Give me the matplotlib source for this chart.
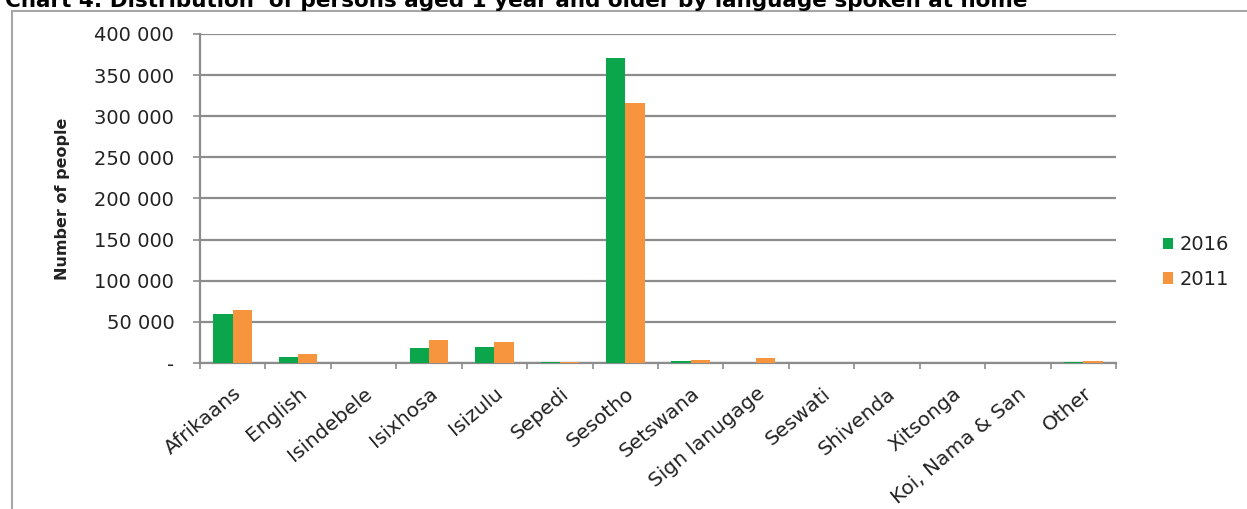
import numpy as np
import matplotlib.pyplot as plt
from matplotlib.patches import Rectangle
from matplotlib.ticker import FuncFormatter, FixedLocator

plt.rcParams['font.family'] = ['DejaVu Sans']

# Home language counts, persons aged 1 year and older
languages = ['Afrikaans', 'English', 'Isindebele', 'Isixhosa', 'Isizulu', 'Sepedi',
             'Sesotho', 'Setswana', 'Sign lanugage', 'Seswati', 'Shivenda',
             'Xitsonga', 'Koi, Nama & San', 'Other']
count_2016 = [60000, 7300, 300, 18000, 20000, 1500, 370500, 2500, 500, 200, 200,
              200, 200, 1500]
count_2011 = [64500, 11000, 300, 27500, 25000, 1500, 316000, 3500, 6000, 200, 200,
              200, 200, 2500]

green = '#0BA64B'
orange = '#F7953F'
grid_grey = '#8C8C8C'
text_col = '#222222'

W, H = 1247, 509
fig = plt.figure(figsize=(W / 100, H / 100), dpi=100)
ax = fig.add_axes([200 / W, 1 - 363 / H, 916 / W, 329 / H])

x = np.arange(len(languages))
w = 0.295
ax.bar(x - w / 2, count_2016, w, color=green, label='2016', zorder=3)
ax.bar(x + w / 2, count_2011, w, color=orange, label='2011', zorder=3)

ax.set_xlim(-0.5, len(languages) - 0.5)
ax.set_ylim(0, 400000)
ax.set_yticks(np.arange(0, 400001, 50000))
ax.yaxis.set_major_formatter(FuncFormatter(
    lambda v, p: '-' if v == 0 else f'{int(v):,}'.replace(',', ' ')))
ax.grid(axis='y', color=grid_grey, lw=1.6, zorder=0)

ax.set_xticks(x)
ax.set_xticklabels(languages, rotation=40, ha='right', va='top', rotation_mode='anchor')
ax.xaxis.set_minor_locator(FixedLocator(np.arange(-0.5, len(languages), 1)))
ax.tick_params(axis='x', which='major', length=0, pad=15, labelsize=14.5, labelcolor=text_col)
ax.tick_params(axis='x', which='minor', length=4, color=grid_grey, width=1.2)
ax.tick_params(axis='y', length=5, color=grid_grey, width=1.2, labelsize=14,
               labelcolor=text_col, pad=13.5)

for side in ['top', 'right']:
    ax.spines[side].set_visible(False)
for side in ['left', 'bottom']:
    ax.spines[side].set_color(grid_grey)
    ax.spines[side].set_linewidth(1.6)

ax.set_ylabel('Number of people', fontsize=11.5, fontweight='bold', color=text_col)
ax.yaxis.set_label_coords(-0.142, 0.5)

ax.legend(loc='center left', bbox_to_anchor=(1163 / W, 1 - 262 / H),
          bbox_transform=fig.transFigure, frameon=False, borderpad=0,
          borderaxespad=0, fontsize=14, handlelength=0.52, handleheight=0.52,
          handletextpad=0.36, labelspacing=0.8, labelcolor=text_col)

# outer chart border
fig.patches.append(Rectangle((12 / W, -0.05), 1.1, 1 - 11 / H + 0.05,
                             transform=fig.transFigure, fill=False,
                             edgecolor='#A6A6A6', lw=1.5))

fig.text(5 / W, 1 - 7 / H,
         'Chart 4: Distribution  of persons aged 1 year and older by language spoken at home',
         fontsize=15.5, fontweight='bold', va='baseline', ha='left')

fig.savefig('out.png', dpi=100)
